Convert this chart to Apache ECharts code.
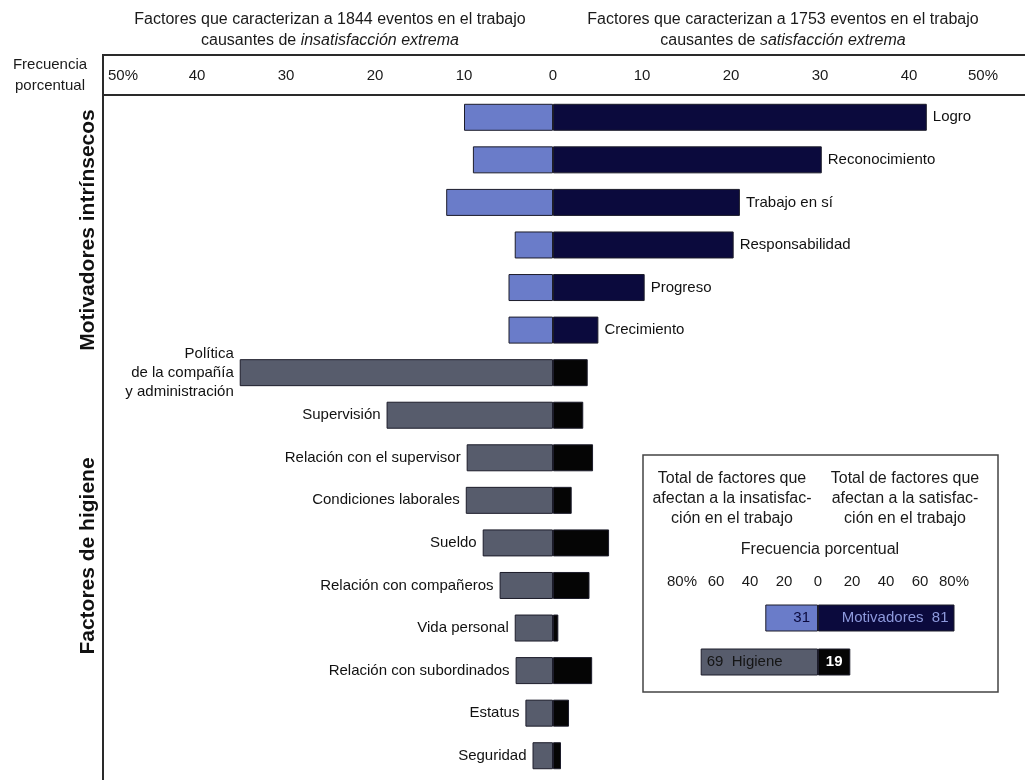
<!DOCTYPE html>
<html lang="es">
<head>
<meta charset="UTF-8">
<title>Factores de Herzberg</title>
<script src="https://cdn.jsdelivr.net/npm/echarts@6/dist/echarts.min.js"></script>
<style>html,body{margin:0;padding:0;background:#fff;}</style>
</head>
<body>
<div id="main" style="width:1025px;height:780px;"></div>
<script type="text/javascript">
// datos (porcentajes)
var factores = ['Logro', 'Reconocimiento', 'Trabajo en sí', 'Responsabilidad', 'Progreso', 'Crecimiento',
    'Política\nde la compañía\ny administración', 'Supervisión', 'Relación con el supervisor',
    'Condiciones laborales', 'Sueldo', 'Relación con compañeros', 'Vida personal',
    'Relación con subordinados', 'Estatus', 'Seguridad'];
var esMotivador = [1, 1, 1, 1, 1, 1, 0, 0, 0, 0, 0, 0, 0, 0, 0, 0];
var insatisfaccion = [10, 9, 12, 4.3, 5, 5, 35.2, 18.7, 9.7, 9.8, 7.9, 6, 4.3, 4.2, 3.1, 2.3];
var satisfaccion = [42, 30.2, 21, 20.3, 10.3, 5.1, 3.9, 3.4, 4.5, 2.1, 6.3, 4.1, 0.6, 4.4, 1.8, 0.9];

// recuadro de totales
var grupos = ['Motivadores', 'Higiene'];
var totalInsatisfaccion = [31, 69];
var totalSatisfaccion = [81, 19];

var FONT = '"Liberation Sans", Arial, sans-serif';
var AZUL_CLARO = '#6a7cc9', AZUL_OSCURO = '#0b0a3d', GRIS = '#575c6c', NEGRO = '#050505';

var myChart = echarts.init(document.getElementById('main'));

var datosInsat = insatisfaccion.map(function (v, i) {
    return {
        value: -v,
        itemStyle: {color: esMotivador[i] ? AZUL_CLARO : GRIS},
        label: {show: !esMotivador[i], position: 'left', distance: 6, formatter: factores[i]}
    };
});
var datosSat = satisfaccion.map(function (v, i) {
    return {
        value: v,
        itemStyle: {color: esMotivador[i] ? AZUL_OSCURO : NEGRO},
        label: {show: !!esMotivador[i], position: 'right', distance: 6, formatter: factores[i]}
    };
});

var totInsat = totalInsatisfaccion.map(function (v, i) {
    return {
        value: -v,
        itemStyle: {color: i === 0 ? AZUL_CLARO : GRIS},
        label: i === 0
            ? {show: true, position: 'insideRight', distance: 8, formatter: String(v), color: AZUL_OSCURO}
            : {show: true, position: 'insideLeft', distance: 6, formatter: v + '  ' + grupos[i], color: '#151515'}
    };
});
var totSat = totalSatisfaccion.map(function (v, i) {
    return {
        value: v,
        itemStyle: {color: i === 0 ? AZUL_OSCURO : NEGRO},
        label: i === 0
            ? {show: true, position: 'insideRight', distance: 6, formatter: grupos[i] + '  ' + v, color: '#8d99dc'}
            : {show: true, position: 'inside', formatter: String(v), color: '#fff', fontWeight: 'bold'}
    };
});

var lineaStyle = {stroke: '#2a2a2a', lineWidth: 2};
var tituloRich = {
    n: {fontSize: 16, fontWeight: 'normal', color: '#1a1a1a', lineHeight: 21, fontFamily: FONT},
    i: {fontSize: 16, fontWeight: 'normal', color: '#1a1a1a', lineHeight: 21, fontStyle: 'italic', fontFamily: FONT}
};

var option = {
    backgroundColor: '#fff',
    textStyle: {fontFamily: FONT},
    animation: false,
    title: [{
        left: 325, top: 4, textAlign: 'center',
        text: '{n|Factores que caracterizan a 1844 eventos en el trabajo}\n{n|causantes de }{i|insatisfacción extrema}',
        textStyle: {fontWeight: 'normal', rich: tituloRich}
    }, {
        left: 778, top: 4, textAlign: 'center',
        text: '{n|Factores que caracterizan a 1753 eventos en el trabajo}\n{n|causantes de }{i|satisfacción extrema}',
        textStyle: {fontWeight: 'normal', rich: tituloRich}
    }],
    grid: [
        {left: 108, right: 27, top: 96, bottom: 3},
        {left: 682, right: 71, top: 596, height: 88}
    ],
    xAxis: [{
        gridIndex: 0, type: 'value', position: 'top', min: -50, max: 50, interval: 10,
        axisLine: {show: false}, axisTick: {show: false}, splitLine: {show: false},
        axisLabel: {
            margin: 13, fontSize: 15, color: '#1a1a1a', alignMinLabel: 'left', alignMaxLabel: 'right',
            formatter: function (v) { return Math.abs(v) === 50 ? '50%' : String(Math.abs(v)); }
        }
    }, {
        gridIndex: 1, type: 'value', position: 'top', min: -80, max: 80, interval: 20,
        axisLine: {show: false}, axisTick: {show: false}, splitLine: {show: false},
        axisLabel: {
            margin: 7, fontSize: 15, color: '#1a1a1a',
            formatter: function (v) { return Math.abs(v) === 80 ? '80%' : String(Math.abs(v)); }
        }
    }],
    yAxis: [{
        gridIndex: 0, type: 'category', data: factores, inverse: true,
        axisLine: {show: false}, axisTick: {show: false}, axisLabel: {show: false}
    }, {
        gridIndex: 1, type: 'category', data: grupos, inverse: true,
        axisLine: {show: false}, axisTick: {show: false}, axisLabel: {show: false}
    }],
    series: [{
        name: 'Insatisfacción', type: 'bar', stack: 'f', barWidth: 27,
        itemStyle: {borderColor: '#1c1c2a', borderWidth: 1},
        label: {fontSize: 15, color: '#111', lineHeight: 19},
        data: datosInsat
    }, {
        name: 'Satisfacción', type: 'bar', stack: 'f', barWidth: 27,
        itemStyle: {borderColor: '#1c1c2a', borderWidth: 1},
        label: {fontSize: 15, color: '#111'},
        data: datosSat
    }, {
        name: 'Total insatisfacción', type: 'bar', stack: 't', barWidth: 27,
        xAxisIndex: 1, yAxisIndex: 1,
        itemStyle: {borderColor: '#1c1c2a', borderWidth: 1},
        label: {fontSize: 15},
        data: totInsat
    }, {
        name: 'Total satisfacción', type: 'bar', stack: 't', barWidth: 27,
        xAxisIndex: 1, yAxisIndex: 1,
        itemStyle: {borderColor: '#1c1c2a', borderWidth: 1},
        label: {fontSize: 15},
        data: totSat
    }],
    graphic: [
        {type: 'line', shape: {x1: 103, y1: 55, x2: 1025, y2: 55}, style: lineaStyle},
        {type: 'line', shape: {x1: 103, y1: 95, x2: 1025, y2: 95}, style: lineaStyle},
        {type: 'line', shape: {x1: 103, y1: 54, x2: 103, y2: 780}, style: lineaStyle},
        {type: 'text', x: 50, y: 75, style: {
            text: 'Frecuencia\nporcentual', font: '15px ' + FONT, fill: '#1a1a1a',
            textAlign: 'center', textVerticalAlign: 'middle', lineHeight: 21
        }},
        {type: 'text', x: 88, y: 230, rotation: Math.PI / 2, style: {
            text: 'Motivadores intrínsecos', font: 'bold 21px ' + FONT, fill: '#111',
            textAlign: 'center', textVerticalAlign: 'middle'
        }},
        {type: 'text', x: 88, y: 556, rotation: Math.PI / 2, style: {
            text: 'Factores de higiene', font: 'bold 21px ' + FONT, fill: '#111',
            textAlign: 'center', textVerticalAlign: 'middle'
        }},
        {type: 'rect', z: -1, shape: {x: 643, y: 455, width: 355, height: 237},
            style: {fill: '#fff', stroke: '#444', lineWidth: 1.5}},
        {type: 'text', x: 732, y: 499, style: {
            text: 'Total de factores que\nafectan a la insatisfac-\nción en el trabajo', font: '16px ' + FONT,
            fill: '#1a1a1a', textAlign: 'center', textVerticalAlign: 'middle', lineHeight: 20
        }},
        {type: 'text', x: 905, y: 499, style: {
            text: 'Total de factores que\nafectan a la satisfac-\nción en el trabajo', font: '16px ' + FONT,
            fill: '#1a1a1a', textAlign: 'center', textVerticalAlign: 'middle', lineHeight: 20
        }},
        {type: 'text', x: 820, y: 550, style: {
            text: 'Frecuencia porcentual', font: '16px ' + FONT, fill: '#1a1a1a',
            textAlign: 'center', textVerticalAlign: 'middle'
        }}
    ]
};

myChart.setOption(option);
</script>
</body>
</html>
